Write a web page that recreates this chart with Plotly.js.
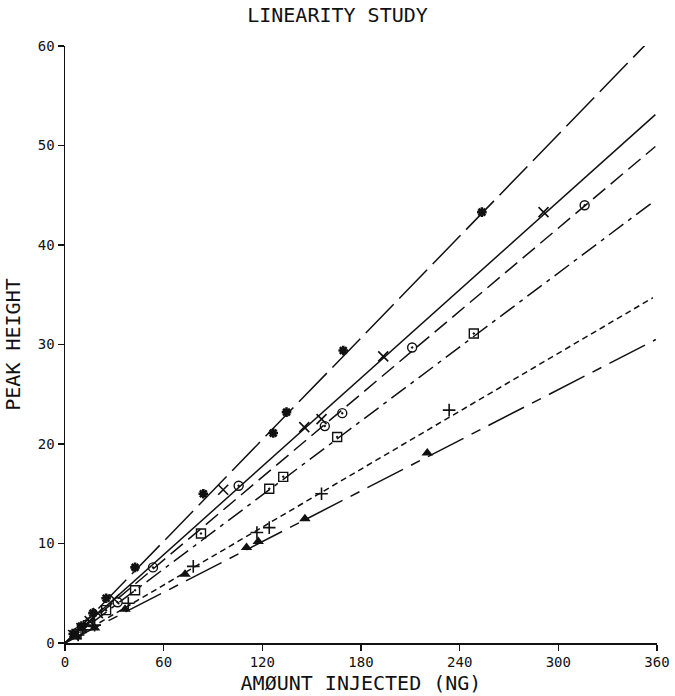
<!DOCTYPE html>
<html>
<head>
<meta charset="utf-8">
<script src="https://cdn.plot.ly/plotly-3.0.1.min.js"></script>
<style>html,body{margin:0;padding:0;background:#fff;}#chart{width:675px;height:696px;}</style>
</head>
<body>
<div id="chart"></div>
<script>
// Series A (asterisks, long dashes)
const ax = [5, 10, 17, 25, 42.6, 84.1, 126.6, 134.7, 169.2, 253.5];
const ay = [0.9, 1.7, 3.0, 4.5, 7.6, 15.0, 21.1, 23.2, 29.4, 43.3];
const aLineX = [0, 354];
const aLineY = [0, 60.3];
// Series B (x marks, solid)
const bx = [5, 10, 15, 20, 30, 96.2, 145.5, 156, 193.5, 291];
const by = [0.8, 1.5, 2.2, 3.0, 4.4, 15.4, 21.7, 22.5, 28.8, 43.3];
const bLineX = [0, 359];
const bLineY = [0, 53.1];
// Series C (circles, dashes)
const cx = [8, 15, 32, 53.5, 105.6, 158, 168.6, 211.1, 316];
const cy = [1.1, 2.1, 4.1, 7.6, 15.8, 21.8, 23.1, 29.7, 44.0];
const cLineX = [0, 359];
const cLineY = [0, 49.9];
// Series D (squares, dash-dot)
const dx = [7, 14, 25, 42.6, 82.7, 124.2, 132.7, 165.5, 248.6];
const dy = [0.9, 1.8, 3.3, 5.3, 11.0, 15.5, 16.7, 20.7, 31.1];
const dLineX = [0, 359];
const dLineY = [0, 44.5];
// Series E (plus marks, short dashes)
const ex = [8, 18, 38.5, 78, 116.7, 124.2, 156, 233.6];
const ey = [0.8, 1.8, 4.0, 7.7, 11.1, 11.6, 15.0, 23.4];
const eLineX = [0, 357.5];
const eLineY = [0, 34.7];
// Series F (triangles, long-short dashes)
const fx = [7, 18, 36.5, 73, 110.4, 117.5, 145.9, 220.3];
const fy = [0.6, 1.5, 3.4, 6.9, 9.6, 10.2, 12.5, 19.1];
const fLineX = [0, 359.3];
const fLineY = [0, 30.5];

const xTicks = [0, 60, 120, 180, 240, 300, 360];
const yTicks = [0, 10, 20, 30, 40, 50, 60];

const FONT = 'DejaVu Sans Mono, monospace';
function lineTrace(x, y, dash) {
  return {x: x, y: y, type: 'scatter', mode: 'lines', line: {color: '#111', width: 1.5, dash: dash}, hoverinfo: 'skip', showlegend: false};
}
function markTrace(x, y, sym, size, lw) {
  return {x: x, y: y, type: 'scatter', mode: 'markers', showlegend: false,
    marker: {symbol: sym, size: size, color: '#111', line: {color: '#111', width: lw}}};
}
const data = [
  lineTrace(aLineX, aLineY, '40px,8px'),
  lineTrace(bLineX, bLineY, 'solid'),
  lineTrace(cLineX, cLineY, '16px,7px'),
  lineTrace(dLineX, dLineY, '18px,6px,4px,6px'),
  lineTrace(eLineX, eLineY, '6px,4px'),
  lineTrace(fLineX, fLineY, '40px,9px,10px,9px'),
  markTrace(ax, ay, 'asterisk-open', 8, 2.6),
  markTrace(bx, by, 'x-thin-open', 10, 1.6),
  markTrace(cx, cy, 'circle-open-dot', 9, 1.4),
  markTrace(dx, dy, 'square-open-dot', 9, 1.4),
  markTrace(ex, ey, 'cross-thin-open', 9, 1.6),
  markTrace(fx, fy, 'triangle-up', 10, 0)
];
const layout = {
  width: 675, height: 696,
  margin: {l: 65, r: 18, t: 46, b: 53},
  paper_bgcolor: '#fff', plot_bgcolor: '#fff',
  font: {family: FONT, color: '#111', size: 14},
  title: {text: 'LINEARITY STUDY', x: 0.5, xanchor: 'center', y: 0.978, yanchor: 'middle', font: {family: FONT, size: 20, color: '#111'}},
  xaxis: {range: [0, 360], tickvals: xTicks, ticktext: xTicks.map(String), ticks: 'outside', ticklen: 6, tickwidth: 1.5, tickcolor: '#111',
    showline: true, linecolor: '#111', linewidth: 1.5, showgrid: false, zeroline: false, mirror: false,
    tickfont: {family: FONT, size: 14, color: '#111'},
    title: {text: 'AMØUNT INJECTED (NG)', standoff: 6, font: {family: FONT, size: 20, color: '#111'}}},
  yaxis: {range: [0, 60], tickvals: yTicks, ticktext: yTicks.map(String), ticks: 'outside', ticklen: 6, tickwidth: 1.5, tickcolor: '#111',
    showline: true, linecolor: '#111', linewidth: 1.5, showgrid: false, zeroline: false,
    tickfont: {family: FONT, size: 14, color: '#111'},
    title: {text: 'PEAK HEIGHT', standoff: 12, font: {family: FONT, size: 20, color: '#111'}}}
};
Plotly.newPlot('chart', data, layout, {staticPlot: true, displayModeBar: false});
</script>
</body>
</html>
